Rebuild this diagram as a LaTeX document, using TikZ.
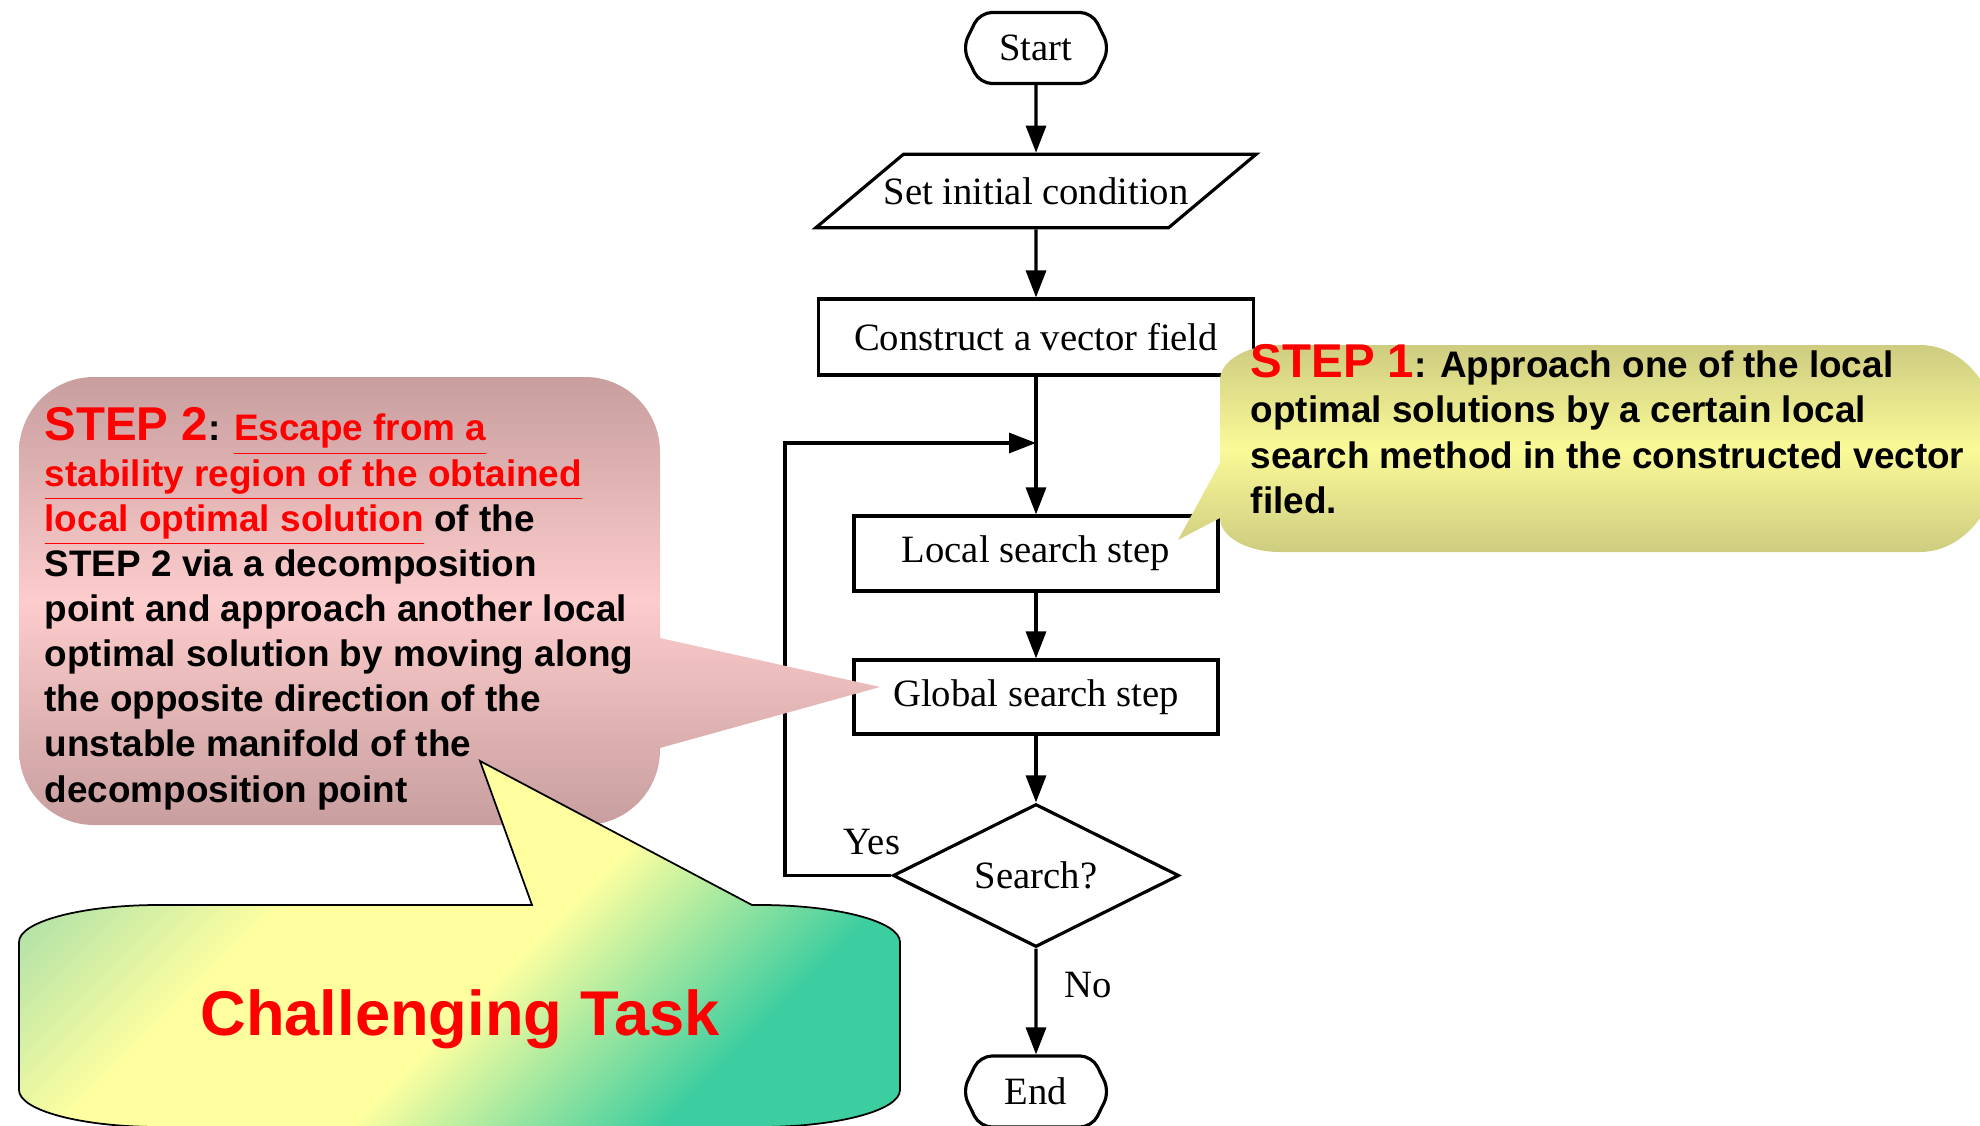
\documentclass[tikz,border=0pt]{standalone}
\usepackage{fontspec}
\setmainfont{Liberation Serif}
\newfontfamily\calloutfont{Liberation Sans}
\usetikzlibrary{shapes, arrows.meta}

\definecolor{stepredtop}{RGB}{200,158,158}
\definecolor{stepredmid}{RGB}{253,204,204}
\definecolor{stepyeltop}{RGB}{206,204,128}
\definecolor{stepyelmid}{RGB}{250,250,152}
\definecolor{taskgreen}{RGB}{178,226,168}
\definecolor{taskyellow}{RGB}{255,255,160}
\definecolor{taskteal}{RGB}{60,205,160}
\definecolor{textred}{RGB}{255,0,0}
\pgfdeclareverticalshading{taskshade}{100bp}{color(0bp)=(taskteal); color(28bp)=(taskteal);
	color(46bp)=(taskyellow); color(62bp)=(taskyellow); color(76bp)=(taskgreen); color(100bp)=(taskgreen)}

\tikzset{
	flowtext/.style={font=\fontsize{11}{13}\selectfont},
	flowbox/.style={rectangle, draw=black, line width=0.9pt, fill=white, flowtext, inner sep=0pt},
	terminal/.style={signal, signal to=west and east, signal pointer angle=128, draw=black, line width=0.9pt,
		fill=white, rounded corners=0.12cm, minimum width=1.47cm, minimum height=0.71cm, inner sep=0pt, flowtext},
	flowarrow/.style={line width=0.9pt, -{Triangle[width=0.2cm,length=0.27cm]}},
	calloutbody/.style={font=\calloutfont\bfseries\fontsize{10.5}{12.85}\selectfont, align=left, anchor=north west, inner sep=0pt},
	bigstep/.style={font=\calloutfont\bfseries\fontsize{18}{22}\selectfont, text=textred},
}
\newcommand{\steplabel}[1]{\textcolor{textred}{\fontsize{13.5}{13.5}\selectfont STEP #1}}
\newcommand{\redline}[1]{\textcolor{textred}{\underline{#1}}}

\begin{document}
\begin{tikzpicture}
	\useasboundingbox (0,0) rectangle (19.80,-11.26);
	\def\cx{10.36}
	\def\loopx{7.85}
	\def\loopy{-4.43}
	\node[terminal] (start) at (\cx,-0.48) {Start};
	\node[flowbox, trapezium, trapezium left angle=40, trapezium right angle=140, trapezium stretches body=true,
		inner ysep=6.6pt, inner xsep=-0.2cm] (init) at (\cx,-1.91) {Set initial condition};
	\node[flowbox, minimum width=4.35cm, minimum height=0.76cm] (field) at (\cx,-3.37) {Construct a vector field};
	\node[flowbox, minimum width=3.64cm, minimum height=0.75cm] (local) at (\cx,-5.535) {Local search step};
	\node[flowbox, minimum width=3.64cm, minimum height=0.74cm] (global) at (\cx,-6.97) {Global search step};
	\node[flowbox, diamond, aspect=2, minimum width=2.86cm, minimum height=1.43cm] (search) at (\cx,-8.755) {Search?};
	\node[terminal] (stop) at (\cx,-10.915) {End};
	\coordinate (merge) at (\cx,\loopy);
	\coordinate (loopbot) at (\loopx,-8.755);
	\coordinate (looptop) at (\loopx,\loopy);
	\draw[flowarrow] (start) -- (init);
	\draw[flowarrow] (init) -- (field);
	\draw[flowarrow] (field) -- (local);
	\draw[flowarrow] (local) -- (global);
	\draw[flowarrow] (global) -- (search);
	\draw[flowarrow] (search) -- (stop);
	\draw[flowarrow] (search.west) -- (loopbot) -- (looptop) -- (merge);
	\node[flowtext] (yes) at (8.72,-8.42) {Yes};
	\node[flowtext] (no) at (10.88,-9.85) {No};
%%%%
	\shade[top color=stepredtop, bottom color=stepredtop, middle color=stepredmid]
		[rounded corners=0.75cm] (0.19,-3.77) -- (6.60,-3.77) -- (6.60,-8.25) -- (0.19,-8.25) -- cycle
		[sharp corners] (6.00,-6.38) -- (6.60,-6.38) -- (8.80,-6.87) -- (6.60,-7.48) -- (6.00,-7.48) -- cycle;
	\node[calloutbody] (steptwo) at (0.44,-4.07) {\steplabel{2}: \redline{Escape from a}\\
		\redline{stability region of the obtained}\\
		\redline{local optimal solution} of the\\
		STEP 2 via a decomposition\\
		point and approach another local\\
		optimal solution by moving along\\
		the opposite direction of the\\
		unstable manifold of the\\
		decomposition point};
%%%%
	\shade[top color=stepyeltop, bottom color=stepyeltop, middle color=stepyelmid]
		(12.80,-3.45) -- (19.20,-3.45) arc[start angle=90, end angle=0, x radius=0.8cm, y radius=1.0cm]
		-- (20.00,-4.52) arc[start angle=0, end angle=-90, x radius=0.8cm, y radius=1.0cm]
		-- (12.80,-5.52) arc[start angle=270, end angle=180, x radius=0.6cm, y radius=0.34cm]
		-- (11.78,-5.40) -- (12.20,-4.63) -- (12.20,-3.80) arc[start angle=180, end angle=90, x radius=0.6cm, y radius=0.35cm]
		-- cycle;
	\node[calloutbody] (stepone) at (12.50,-3.44) {\steplabel{1}: Approach one of the local\\
		optimal solutions by a certain local\\
		search method in the constructed vector\\
		filed.};
%%%%
	\shade[draw=black, line width=0.5pt, shading=taskshade, shading angle=45]
		(1.59,-9.05) -- (5.32,-9.05) -- (4.80,-7.61) -- (7.52,-9.05) -- (7.60,-9.05)
		arc[start angle=90, end angle=0, x radius=1.4cm, y radius=0.37cm] -- (9.00,-10.90)
		arc[start angle=0, end angle=-90, x radius=1.4cm, y radius=0.37cm] -- (1.59,-11.27)
		arc[start angle=270, end angle=180, x radius=1.4cm, y radius=0.37cm] -- (0.19,-9.42)
		arc[start angle=180, end angle=90, x radius=1.4cm, y radius=0.37cm] -- cycle;
	\node[bigstep] (task) at (4.60,-10.19) {Challenging Task};
\end{tikzpicture}
\end{document}
